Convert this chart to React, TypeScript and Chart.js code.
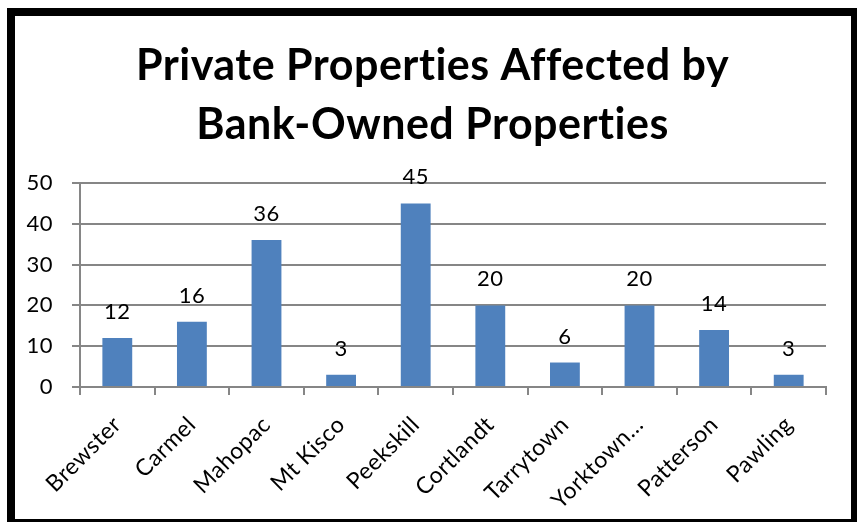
import React, { useEffect, useRef } from 'react';
import { Chart, registerables } from 'chart.js';

Chart.register(...registerables);

const categories = ['Brewster', 'Carmel', 'Mahopac', 'Mt Kisco', 'Peekskill', 'Cortlandt', 'Tarrytown', 'Yorktown…', 'Patterson', 'Pawling'];
const values = [12, 16, 36, 3, 45, 20, 6, 20, 14, 3];
const yMin = 0;
const yMax = 50;
const yStep = 10;
const titleLines = ['Private Properties Affected by', 'Bank-Owned Properties'];

const FONT = 'Lato, "Noto Sans", sans-serif';
const GRID = '#868686';
const BAR = '#4F81BD';

const spacingPlugin = {
  id: 'noLigatures',
  beforeDraw(chart: any) {
    chart.ctx.letterSpacing = '0.5px';
  },
};

const titleShiftPlugin = {
  id: 'titleShift',
  afterLayout(chart: any) {
    const t = chart.titleBlock;
    if (t) {
      t.left = 24;
    }
  },
};

const barLabelPlugin = {
  id: 'barLabels',
  afterDatasetsDraw(chart: any) {
    const ctx = chart.ctx;
    const meta = chart.getDatasetMeta(0);
    ctx.save();
    ctx.font = `22px ${FONT}`;
    ctx.fillStyle = '#000';
    ctx.textAlign = 'center';
    ctx.textBaseline = 'alphabetic';
    meta.data.forEach((bar: any, i: number) => {
      ctx.fillText(String(values[i]), bar.x, bar.y - 19);
    });
    ctx.restore();
  },
};

export default function App() {
  const ref = useRef<HTMLCanvasElement | null>(null);

  useEffect(() => {
    if (!ref.current) return;
    const chart = new Chart(ref.current, {
      type: 'bar',
      data: {
        labels: categories,
        datasets: [
          {
            data: values,
            backgroundColor: BAR,
            borderWidth: 0,
            barPercentage: 0.4,
            categoryPercentage: 1,
          },
        ],
      },
      options: {
        responsive: false,
        animation: false,
        layout: { padding: { left: 0, right: 25, top: 0, bottom: 0 } },
        plugins: {
          legend: { display: false },
          tooltip: { enabled: false },
          title: {
            display: true,
            text: titleLines,
            color: '#000',
            font: { family: FONT, size: 43, weight: 'bold', lineHeight: 59 / 43 },
            padding: { top: 21, bottom: 28 },
          },
        },
        scales: {
          x: {
            grid: {
              drawOnChartArea: false,
              drawTicks: true,
              offset: true,
              tickLength: 8,
              color: GRID,
              lineWidth: 2,
            },
            border: { display: true, color: GRID, width: 2 },
            ticks: {
              autoSkip: false,
              maxRotation: 45,
              minRotation: 45,
              color: '#000',
              font: { family: FONT, size: 23 },
              padding: 16,
            },
            afterFit(scale: any) {
              scale.height = 132;
            },
          },
          y: {
            min: yMin,
            max: yMax,
            grid: {
              color: GRID,
              lineWidth: 2,
              tickLength: 8,
              drawTicks: true,
            },
            border: { display: true, color: GRID, width: 2 },
            ticks: {
              stepSize: yStep,
              color: '#000',
              font: { family: FONT, size: 22 },
              padding: 19,
            },
            afterFit(scale: any) {
              scale.width = 65;
            },
          },
        },
      },
      plugins: [spacingPlugin, titleShiftPlugin, barLabelPlugin],
    });
    return () => chart.destroy();
  }, []);

  return (
    <div
      style={{
        position: 'fixed',
        left: 7,
        top: 8,
        width: 852,
        height: 519,
        boxSizing: 'border-box',
        border: '8px solid #000',
        background: '#fff',
      }}
    >
      <canvas ref={ref} width={836} height={503} style={{ display: 'block' }} />
    </div>
  );
}
